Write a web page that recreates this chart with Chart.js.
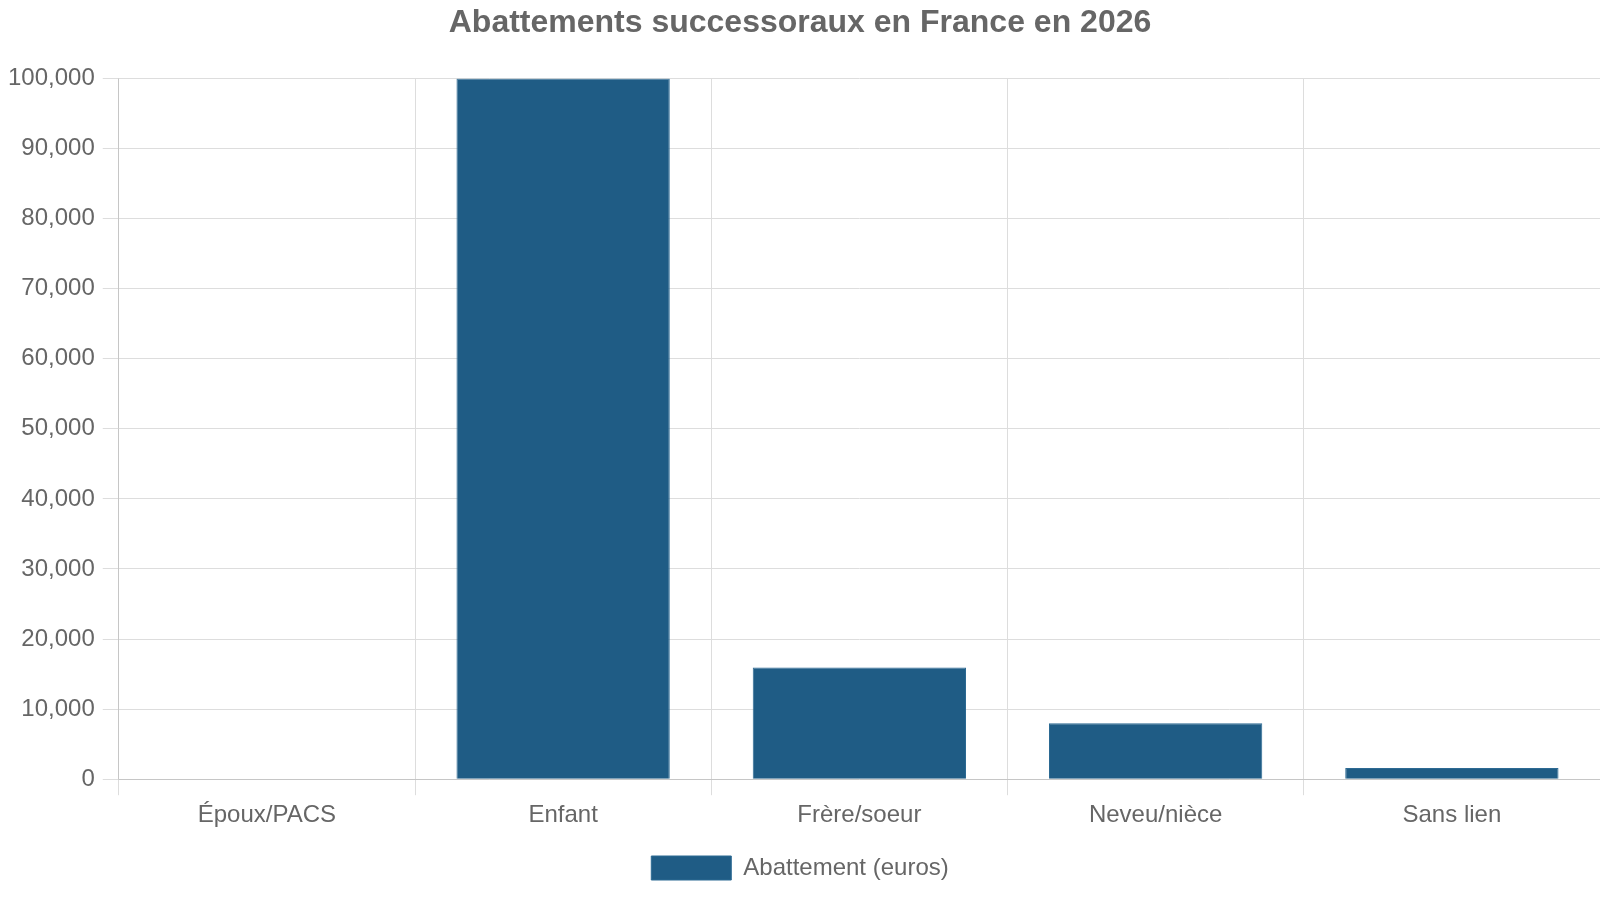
<!DOCTYPE html>
<html><head><meta charset="utf-8">
<script src="https://cdn.jsdelivr.net/npm/chart.js@4"></script>
<style>html,body{margin:0;padding:0;background:#fff}#w{width:1600px;height:900px}</style>
</head><body><div id="w"><canvas id="c"></canvas></div>
<script>
const categories = ["Époux/PACS", "Enfant", "Frère/soeur", "Neveu/nièce", "Sans lien"];
const abattements = [0, 100000, 15932, 7967, 1594];
const seriesLabel = "Abattement (euros)";
const titleText = "Abattements successoraux en France en 2026";

Chart.defaults.font.family = "'Liberation Sans', Arial, sans-serif";
Chart.defaults.color = "#666";
new Chart(document.getElementById('c'), {
  type: 'bar',
  data: { labels: categories, datasets: [{ label: seriesLabel, data: abattements,
    backgroundColor: '#1f5c85', borderColor: '#2d6a93', borderWidth: 1 }] },
  options: {
    responsive: true, maintainAspectRatio: false, animation: false,
    layout: { padding: { left: 0, right: 0, top: 0, bottom: 10 } },
    plugins: {
      title: { display: true, text: titleText, font: { size: 32, weight: 'bold' }, color: '#666', padding: { top: 4, bottom: 36 } },
      legend: { position: 'bottom', labels: { boxWidth: 80, boxHeight: 24, font: { size: 24 }, padding: 20 } },
      tooltip: { enabled: false }
    },
    scales: {
      x: { grid: { color: '#ddd', tickLength: 16 }, ticks: { font: { size: 24 }, color: '#666', padding: 6 } },
      y: { min: 0, max: 100000, grid: { color: '#ddd', tickLength: 16 }, ticks: { stepSize: 10000, font: { size: 24 }, color: '#666', padding: 8 } }
    }
  }
});
</script></body></html>
